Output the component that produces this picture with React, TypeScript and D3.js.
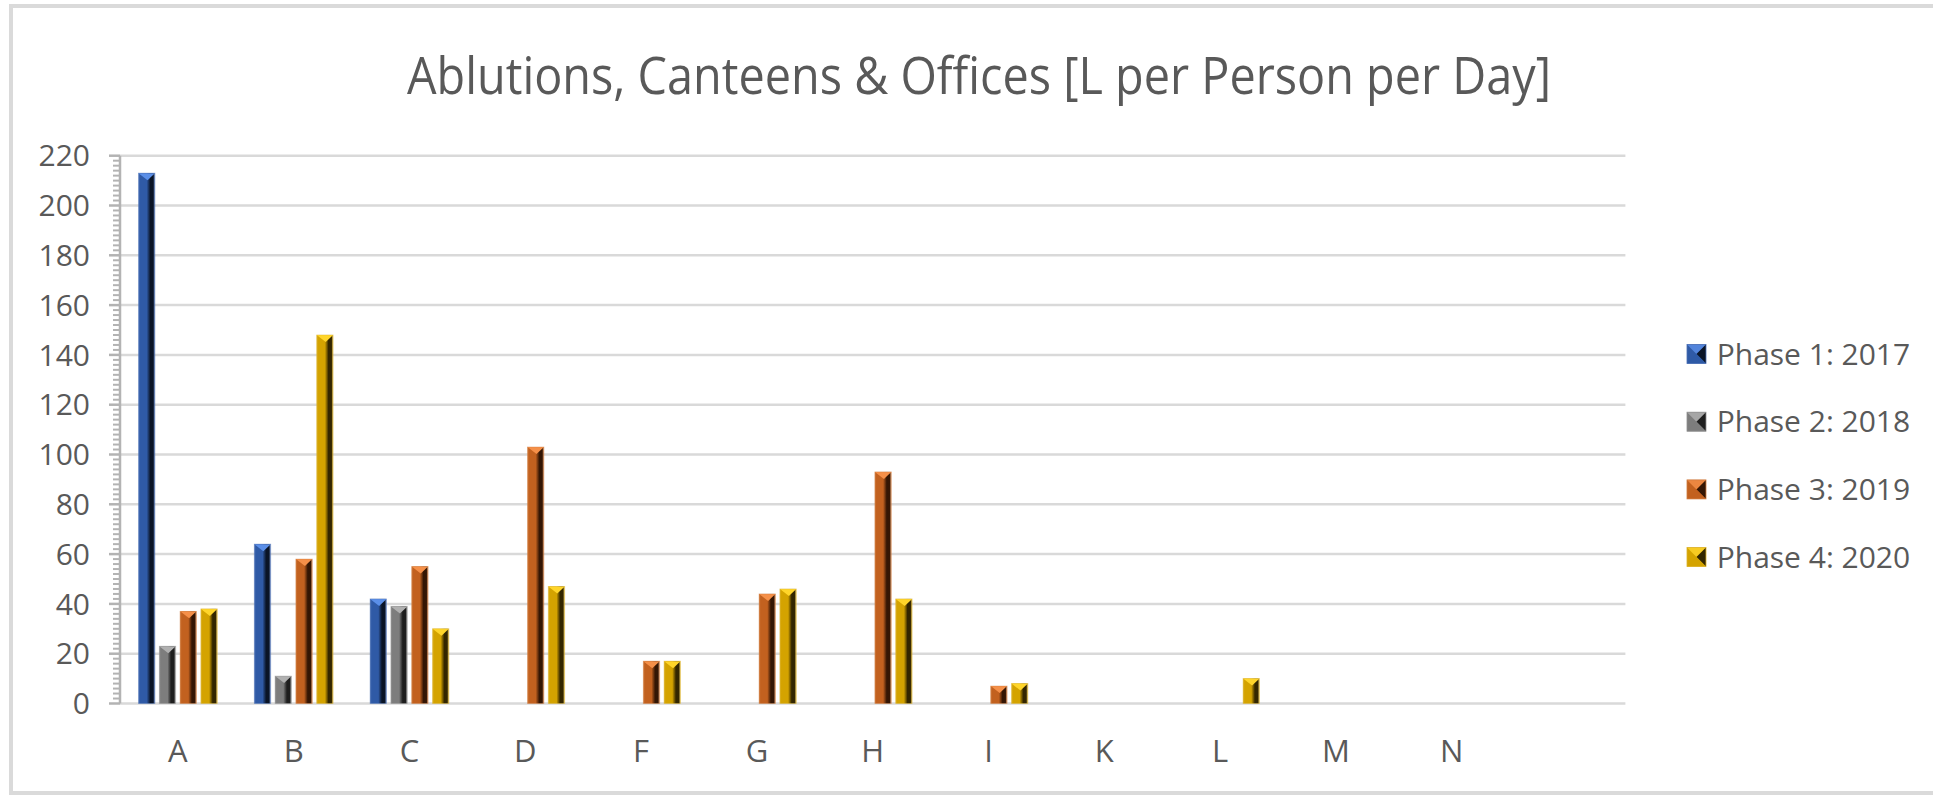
import React from "react";
import * as d3 from "d3";

// ---------- data ----------
const categories = ["A", "B", "C", "D", "F", "G", "H", "I", "K", "L", "M", "N"];
const seriesNames = ["Phase 1: 2017", "Phase 2: 2018", "Phase 3: 2019", "Phase 4: 2020"];
const phase1: (number | null)[] = [213, 64, 42, null, null, null, null, null, null, null, null, null];
const phase2: (number | null)[] = [23, 11, 39, null, null, null, null, null, null, null, null, null];
const phase3: (number | null)[] = [37, 58, 55, 103, 17, 44, 93, 7, null, null, null, null];
const phase4: (number | null)[] = [38, 148, 30, 47, 17, 46, 42, 8, null, 10, null, null];
const yTicks = [0, 20, 40, 60, 80, 100, 120, 140, 160, 180, 200, 220];
const title = "Ablutions, Canteens & Offices [L per Person per Day]";

const seriesValues = [phase1, phase2, phase3, phase4];

// ---------- styles ----------
const palette = [
  { main: "#2f5aa6", light: "#5b8fe8", dark: "#0a1426", edge: "#4a6fb5" },
  { main: "#7d7d7d", light: "#b0b0b0", dark: "#1e1e1e", edge: "#8f8f8f" },
  { main: "#c2611f", light: "#f59049", dark: "#341604", edge: "#d07a3c" },
  { main: "#d4a300", light: "#ffd52a", dark: "#332600", edge: "#dcb22a" },
];

const W = 1933;
const H = 796;
const PLOT_L = 120;
const PLOT_R = 1625.4;
const PLOT_T = 155.7;
const PLOT_B = 703.5;
const TEXT = "#595959";
const FONT = "'Open Sans', 'DejaVu Sans', sans-serif";

export default function App() {
  const x = d3
    .scaleBand<string>()
    .domain([...categories, "__pad__"])
    .range([PLOT_L, PLOT_R])
    .paddingInner(0)
    .paddingOuter(0);
  const inner = d3
    .scaleBand<string>()
    .domain(seriesNames)
    .range([-39.4, 39.4])
    .paddingInner(0.21)
    .paddingOuter(0);
  const y = d3.scaleLinear().domain([0, 220]).range([PLOT_B, PLOT_T]);

  const minorTicks = d3.range(0, 221, 2).filter((v) => v % 20 !== 0);
  const bw = inner.bandwidth();

  return (
    <div style={{ position: "absolute", left: 0, top: 0 }}>
      <svg width={W} height={H} style={{ display: "block" }}>
        <defs>
          {palette.map((p, i) => (
            <linearGradient key={i} id={`bar${i}`} x1="0" x2="1" y1="0" y2="0">
              <stop offset="0" stopColor={p.edge} />
              <stop offset="0.1" stopColor={p.main} />
              <stop offset="0.5" stopColor={p.main} />
              <stop offset="0.72" stopColor={p.dark} />
              <stop offset="0.9" stopColor={p.dark} />
              <stop offset="1" stopColor={p.edge} stopOpacity={0.7} />
            </linearGradient>
          ))}
        </defs>
        <rect x={0} y={0} width={W} height={H} fill="#ffffff" />
        {/* chart frame */}
        <rect x={11} y={6} width={W + 20} height={H - 9} fill="none" stroke="#dadada" strokeWidth={4} />

        {/* title */}
        <text
          x={979}
          y={94}
          textAnchor="middle"
          fontFamily={FONT}
          fontSize={51}
          fill={TEXT}
          textLength={1144}
          lengthAdjust="spacingAndGlyphs"
        >
          {title}
        </text>

        {/* gridlines */}
        {yTicks.map((t) => (
          <line
            key={`g${t}`}
            x1={PLOT_L}
            x2={PLOT_R}
            y1={y(t)}
            y2={y(t)}
            stroke="#d9d9d9"
            strokeWidth={2.5}
          />
        ))}

        {/* y axis */}
        <line x1={PLOT_L} x2={PLOT_L} y1={y(220)} y2={y(0)} stroke="#b3b3b3" strokeWidth={2.5} />
        {yTicks.map((t) => (
          <line key={`mt${t}`} x1={PLOT_L - 11} x2={PLOT_L} y1={y(t)} y2={y(t)} stroke="#b3b3b3" strokeWidth={2.5} />
        ))}
        {minorTicks.map((t) => (
          <line key={`mn${t}`} x1={PLOT_L - 7} x2={PLOT_L} y1={y(t)} y2={y(t)} stroke="#b3b3b3" strokeWidth={2} />
        ))}
        {yTicks.map((t) => (
          <text
            key={`yl${t}`}
            x={90}
            y={y(t) + 10.7}
            textAnchor="end"
            fontFamily={FONT}
            fontSize={30}
            fill={TEXT}
          >
            {t}
          </text>
        ))}

        {/* x labels */}
        {categories.map((c) => (
          <text
            key={`xl${c}`}
            x={(x(c) as number) + x.bandwidth() / 2}
            y={761.7}
            textAnchor="middle"
            fontFamily={FONT}
            fontSize={31}
            fill={TEXT}
          >
            {c}
          </text>
        ))}

        {/* bars */}
        {seriesValues.map((vals, si) =>
          vals.map((v, ci) => {
            if (v == null) return null;
            const cx = (x(categories[ci]) as number) + x.bandwidth() / 2;
            const bx = cx + (inner(seriesNames[si]) as number);
            const by = y(v);
            const bh = y(0) - by;
            const d = Math.min(7, bh);
            return (
              <g key={`b${si}-${ci}`}>
                <rect x={bx} y={by} width={bw} height={bh} fill={`url(#bar${si})`} />
                <polygon
                  points={`${bx},${by} ${bx + bw},${by} ${bx + bw * 0.55},${by + d}`}
                  fill={palette[si].light}
                />
                <rect x={bx} y={by} width={bw} height={bh} fill="none" stroke={palette[si].edge} strokeOpacity={0.5} strokeWidth={0.8} />
              </g>
            );
          })
        )}

        {/* legend */}
        {seriesNames.map((name, i) => {
          const cy = 354 + i * 67.7;
          const s = 19;
          const lx = 1687;
          const ly = cy - s / 2;
          const p = palette[i];
          return (
            <g key={`lg${i}`}>
              <rect x={lx} y={ly} width={s} height={s} fill={p.main} />
              <polygon points={`${lx},${ly} ${lx + s},${ly} ${lx + s / 2},${ly + s / 2}`} fill={p.light} opacity={0.8} />
              <polygon points={`${lx + s},${ly} ${lx + s},${ly + s} ${lx + s / 2},${ly + s / 2}`} fill={p.dark} />
              <polygon points={`${lx},${ly + s} ${lx + s},${ly + s} ${lx + s / 2},${ly + s / 2}`} fill={p.main} opacity={0.9} />
              <rect x={lx} y={ly} width={s} height={s} fill="none" stroke={p.edge} strokeWidth={0.8} />
              <text x={1716.7} y={cy + 10.5} fontFamily={FONT} fontSize={30} fill={TEXT}>
                {name}
              </text>
            </g>
          );
        })}
      </svg>
    </div>
  );
}
